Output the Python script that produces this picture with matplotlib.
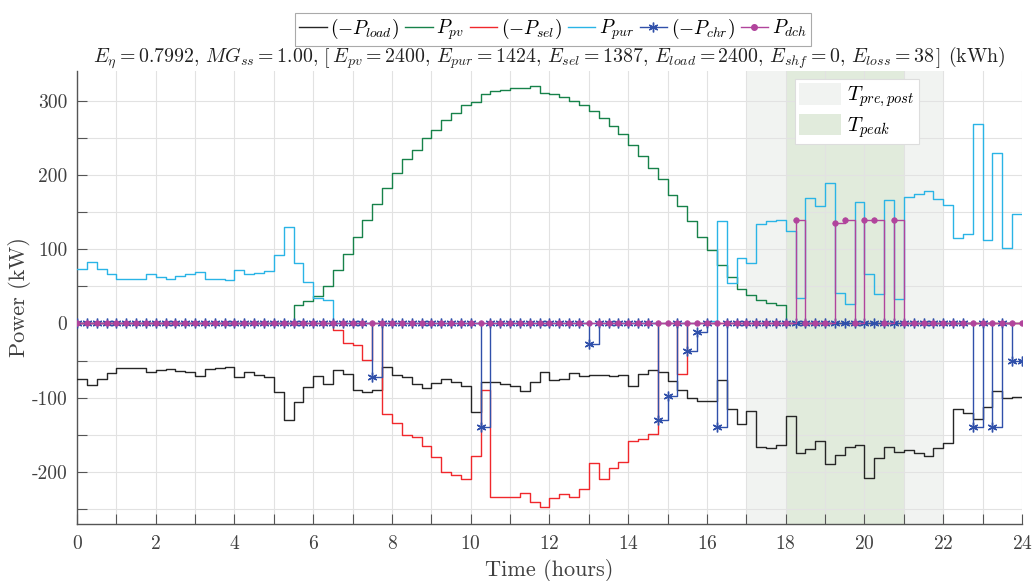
import numpy as np
import matplotlib
matplotlib.use("Agg")
import matplotlib.pyplot as plt
from matplotlib.patches import Patch
from matplotlib.lines import Line2D

plt.rcParams['font.family'] = 'serif'
plt.rcParams['font.serif'] = ['cmr10', 'DejaVu Serif']
plt.rcParams['mathtext.fontset'] = 'cm'
plt.rcParams['axes.formatter.use_mathtext'] = True

# ---------------- data (15-min steps, 96 values) ----------------
hours = np.arange(97) * 0.25

p_load = [-75, -83, -75, -66.4, -60.6, -60.6, -59.7, -65, -63, -61.5, -63.8, -65.5,
          -70.5, -61, -60, -59, -72, -65.5, -68.7, -72, -92, -130, -105.5, -86,
          -71, -81.7, -63, -68, -89, -92, -90, -59, -69.6, -72.7, -81.7, -86.7,
          -80, -75, -78.5, -84, -119, -79.4, -79.4, -82, -84.4, -91, -79.4, -65.5,
          -76.3, -75.4, -66.4, -71, -69, -68.7, -71, -68.7, -84, -68.3, -62, -65,
          -77, -89, -101, -104, -104, -76.3, -115.8, -136, -118, -166, -167.4, -164,
          -124, -175, -169, -158, -189.8, -176.5, -166, -163, -207.8, -180.5, -166.5, -172.8,
          -171, -175, -178.6, -168, -160.7, -115.8, -120, -129, -112, -90.7, -101, -99.6]

p_pv = [0] * 22 + [25, 30, 37, 50, 72, 94, 117, 140, 161.5, 182, 202, 221, 233, 250,
                   260, 273.6, 284, 294.7, 298, 309, 313, 315, 317.6, 317.6, 320, 311,
                   309.6, 305, 299.6, 294, 286, 277, 265.5, 255, 241, 225.6, 210, 194,
                   173, 158, 137.7, 116, 98.6, 78.5, 62, 47, 38, 32, 28, 24.6] + [0] * 24

p_sel = [0] * 26 + [-9, -25.6, -29, -48.5, 0, -122.5, -134, -150, -152.6, -164.7,
                    -179.5, -200.6, -204, -210, -178.6, -90, -234, -233, -234, -228,
                    -241, -247, -235, -230, -234, -223, -188.5, -209.6, -194, -186,
                    -158, -155, -148.6, 0, 0, -68] + [0] * 34

p_pur = [74, 83, 74, 66, 60.5, 60.5, 59.5, 66, 63, 60.5, 63.5, 66, 70, 60.5, 59.5, 59,
         72, 66, 68, 71, 92, 130, 81, 56, 35, 31] + [0] * 38 + \
        [4, 137.7, 55, 88, 81.6, 134.6, 138, 139, 124, 34.5, 169.5, 158, 189, 41.7,
         26, 163, 67, 40, 166, 32.7, 171, 175, 178.5, 168, 160, 115, 121, 269, 112,
         230, 101, 148]

p_chr = [0] * 96
for i, v in {30: -72, 41: -140, 52: -28, 59: -130, 60: -97, 62: -37, 63: -12,
             65: -140, 91: -140, 93: -140, 95: -50}.items():
    p_chr[i] = v

p_dch = [0] * 96
for i, v in {73: 140, 77: 135, 78: 140, 80: 140, 81: 140, 83: 140}.items():
    p_dch[i] = v

prepost = (17, 22)
peak = (18, 21)

y_major = [-200, -100, 0, 100, 200, 300]
y_labels = ['-200', '-100', '0', '100', '200', '300']

def ext(a):
    a = list(a)
    return np.array(a + [a[-1]], dtype=float)

# ---------------- figure ----------------
fig = plt.figure(figsize=(10.35, 5.81), dpi=100)
ax = fig.add_axes([77 / 1035, 1 - 524 / 581, 945 / 1035, 453 / 581])

ax.axvspan(*prepost, color='#f1f3f1', zorder=0.2, lw=0)
ax.axvspan(*peak, color='#e1ebdc', zorder=0.3, lw=0)

c_load = '#262626'
c_pv = '#17824a'
c_sel = '#f0282c'
c_pur = '#2ab4e6'
c_chr = '#3050aa'
c_dch = '#b1449c'

lw = 1.0
ax.step(hours, ext(p_load), where='post', color=c_load, lw=lw, zorder=3)
ax.step(hours, ext(p_pv), where='post', color=c_pv, lw=lw, zorder=3)
ax.step(hours, ext(p_sel), where='post', color=c_sel, lw=lw, zorder=3)
ax.step(hours, ext(p_pur), where='post', color=c_pur, lw=lw, zorder=3)
ax.step(hours, ext(p_chr), where='post', color=c_chr, lw=lw, zorder=4,
        marker=(6, 2, 0), markersize=7, markeredgewidth=1.0)
ax.step(hours, ext(p_dch), where='post', color=c_dch, lw=lw, zorder=5,
        marker='o', markersize=4, markeredgewidth=0.5)

ax.set_xlim(0, 24)
ax.set_ylim(-270, 340)
ax.set_xticks(np.arange(0, 25, 2))
ax.set_xticks(np.arange(0, 25, 1), minor=True)
ax.set_yticks(y_major)
ax.set_yticklabels(y_labels)
ax.set_yticks(np.arange(-250, 340, 50), minor=True)
ax.set_axisbelow(True)
ax.grid(True, which='both', color='#e2e2e2', lw=0.8)

for s in ['top', 'right']:
    ax.spines[s].set_visible(False)
for s in ['left', 'bottom']:
    ax.spines[s].set_color('#555555')
    ax.spines[s].set_linewidth(1.0)
ax.tick_params(which='both', direction='in', length=7, width=0.8, color='#555555',
               labelsize=14, labelcolor='#404040')
ax.tick_params(axis='x', pad=8)
ax.tick_params(axis='y', pad=7)

ax.set_xlabel('Time (hours)', fontsize=16, color='#404040', labelpad=4)
ax.set_ylabel('Power (kW)', fontsize=16, color='#404040')
ax.yaxis.set_label_coords((31 - 77) / 945, 0.5)

title = (r'$E_\eta = 0.7992,\, MG_{ss} = 1.00,\, \left[\, E_{pv} = 2400,\, E_{pur} = 1424,\, '
         r'E_{sel} = 1387,\, E_{load} = 2400,\, E_{shf} = 0,\, E_{loss} = 38 \,\right]$ (kWh)')
ax.set_title(title, fontsize=14.3, color='#222222', pad=4)

handles = [
    Line2D([], [], color=c_load, lw=lw),
    Line2D([], [], color=c_pv, lw=lw),
    Line2D([], [], color=c_sel, lw=lw),
    Line2D([], [], color=c_pur, lw=lw),
    Line2D([], [], color=c_chr, lw=lw, marker=(6, 2, 0), markersize=7),
    Line2D([], [], color=c_dch, lw=lw, marker='o', markersize=4),
]
labels = [r'$(-P_{load})$', r'$P_{pv}$', r'$(-P_{sel})$', r'$P_{pur}$',
          r'$(-P_{chr})$', r'$P_{dch}$']
leg = fig.legend(handles, labels, loc='upper center', bbox_to_anchor=(553 / 1035, 1 - 3 / 581),
                 ncol=6, fontsize=14, handlelength=1.4, handletextpad=0.2,
                 columnspacing=0.3, borderpad=0.2, fancybox=False,
                 edgecolor='#aaaaaa', framealpha=1, numpoints=1)
leg.get_frame().set_linewidth(0.8)

ph = [Patch(facecolor='#f1f3f1', edgecolor='none'), Patch(facecolor='#e1ebdc', edgecolor='none')]
leg2 = ax.legend(ph, [r'$T_{pre,post}$', r'$T_{peak}$'], loc='upper left',
                 bbox_to_anchor=((795 - 77) / 945, (524 - 79) / 453), fontsize=15,
                 handlelength=2.0, handleheight=1.2, handletextpad=0.3, borderpad=0.2,
                 labelspacing=0.2, fancybox=False, edgecolor='#dddddd', framealpha=1,
                 borderaxespad=0)
leg2.get_frame().set_linewidth(0.8)

fig.savefig('out.png', dpi=100)
